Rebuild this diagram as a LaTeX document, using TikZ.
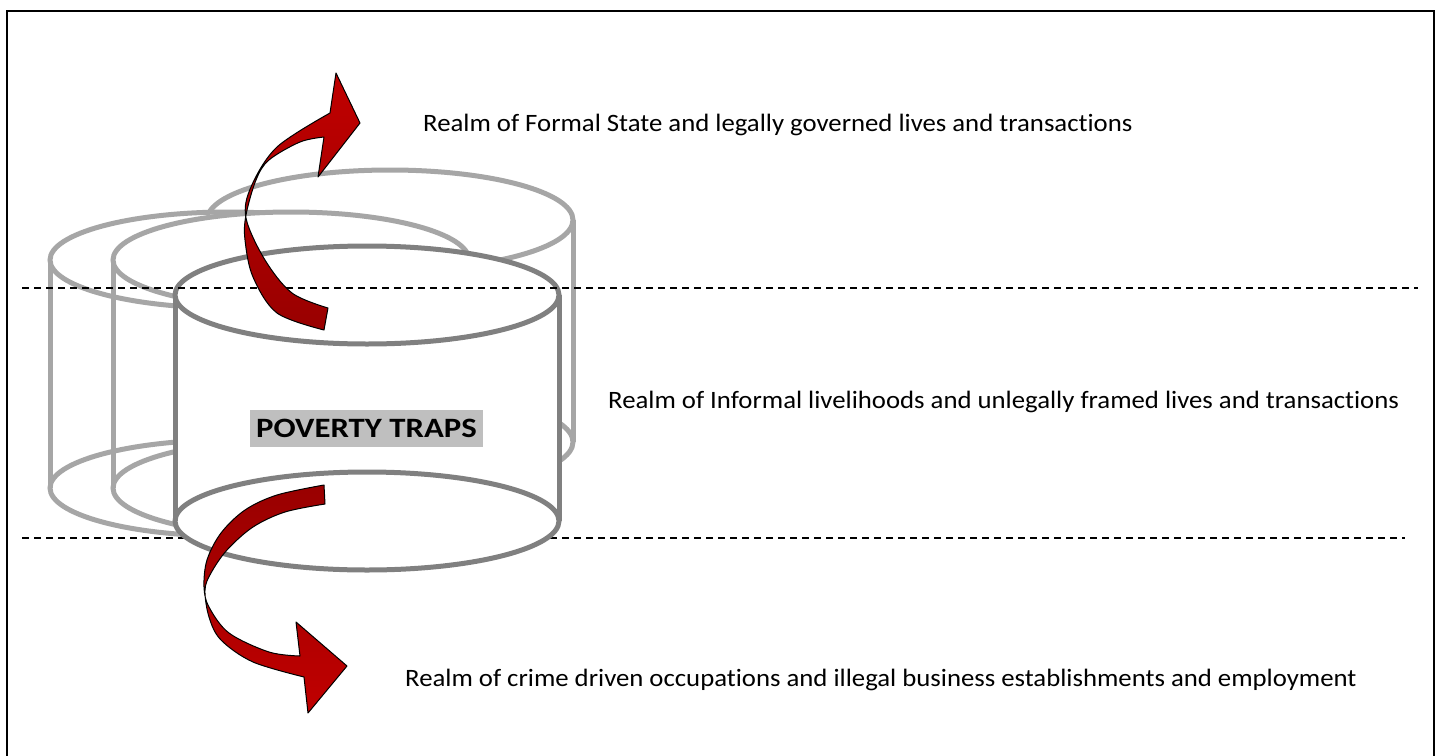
\documentclass[tikz,border=0pt]{standalone}
\usepackage{fontspec}
\usepackage{graphicx}
\setmainfont[Ligatures=NoCommon]{Carlito}
\definecolor{lightcyl}{HTML}{A6A6A6}
\definecolor{darkcyl}{HTML}{808080}
\definecolor{boxgray}{HTML}{BFBFBF}
\definecolor{redbright}{HTML}{C00000}
\definecolor{reddark}{HTML}{990000}
\newcommand\widetext[1]{\scalebox{1.07}[1]{#1}}
\tikzset{
  lightline/.style={draw=lightcyl, line width=5pt},
  darkline/.style={draw=darkcyl, line width=5pt},
  realmdash/.style={draw=black, line width=1.3pt, dash pattern=on 7pt off 5pt},
  realmtext/.style={font=\fontsize{25}{28}\selectfont, inner sep=0pt, anchor=base west},
  redarrow/.style={draw=black, line width=1pt, line join=round},
}
\begin{document}
\begin{tikzpicture}[x=1pt, y=-1pt]
\useasboundingbox (0,0) rectangle (1435,755);
% frame
\draw[line width=2pt] (7,765) -- (7,11) -- (1434,11) -- (1434,765);
% back-right can
\draw[lightline] (390,442) ellipse[x radius=183pt, y radius=50pt];
\draw[lightline] (207,220) -- (207,442) (573,220) -- (573,442);
\draw[lightline, fill=white] (390,220) ellipse[x radius=183pt, y radius=50pt];
% outer-left can
\draw[lightline] (228,488) ellipse[x radius=178pt, y radius=48pt];
\draw[lightline] (50,260) -- (50,488) (406,260) -- (406,488);
\draw[lightline, fill=white] (228,260) ellipse[x radius=178pt, y radius=48pt];
% middle can
\draw[lightline] (291,488) ellipse[x radius=178pt, y radius=48pt];
\draw[lightline] (113,260) -- (113,488) (469,260) -- (469,488);
\draw[lightline, fill=white] (291,260) ellipse[x radius=178pt, y radius=48pt];
% lower dashed line (behind front can)
\coordinate (l2a) at (22,538);
\coordinate (l2b) at (1405,538);
\draw[realmdash] (l2a) -- (l2b);
% front can
\fill[white] (175,295) rectangle (559,521);
\fill[white] (367,521) ellipse[x radius=192pt, y radius=49pt];
\draw[darkline] (367,521) ellipse[x radius=192pt, y radius=49pt];
\draw[darkline] (175,295) -- (175,521) (559,295) -- (559,521);
\draw[darkline, fill=white] (367,295) ellipse[x radius=192pt, y radius=49pt];
% upper dashed line
\coordinate (l1a) at (22,288);
\coordinate (l1b) at (1418,288);
\draw[realmdash] (l1a) -- (l1b);
% label
\node[fill=boxgray, minimum width=233pt, minimum height=37pt, inner sep=0pt,
      font=\bfseries\fontsize{28}{30}\selectfont] (trap) at (366.5,428.5) {\scalebox{1.17}[1]{POVERTY TRAPS}};
% upward arrow
\path[redarrow, top color=redbright, bottom color=reddark]
  plot[smooth, tension=0.55] coordinates {(330,113) (277,147) (251,187) (246,218) (265,260) (292,293) (328,308)}
  -- (324,330)
  -- plot[smooth, tension=0.55] coordinates {(324,330) (277,313) (253,277) (245,240) (246,215) (256,180) (269,160) (300,142) (324,137)}
  -- (318,177) -- (360,123) -- (336,73) -- cycle;
% downward arrow
\path[redarrow, top color=reddark, bottom color=redbright]
  plot[smooth, tension=0.55] coordinates {(324,485) (277,495) (245,510) (221,533) (207,560) (204,587) (209,607) (229,633) (269,652) (300,656)}
  -- (296,622) -- (347,666) -- (308,713) -- (304,677)
  -- plot[smooth, tension=0.55] coordinates {(304,677) (253,662) (221,640) (209,617) (205,590) (211,573) (227,550) (253,527) (285,512) (325,504)}
  -- cycle;
% texts
\node[realmtext] (formal) at (423,131) {\widetext{Realm of Formal State and legally governed lives and transactions}};
\node[realmtext] (informal) at (608,408) {\widetext{Realm of Informal livelihoods and unlegally framed lives and transactions}};
\node[realmtext] (crime) at (405,686) {\widetext{Realm of crime driven occupations and illegal business establishments and employment}};
\end{tikzpicture}
\end{document}
